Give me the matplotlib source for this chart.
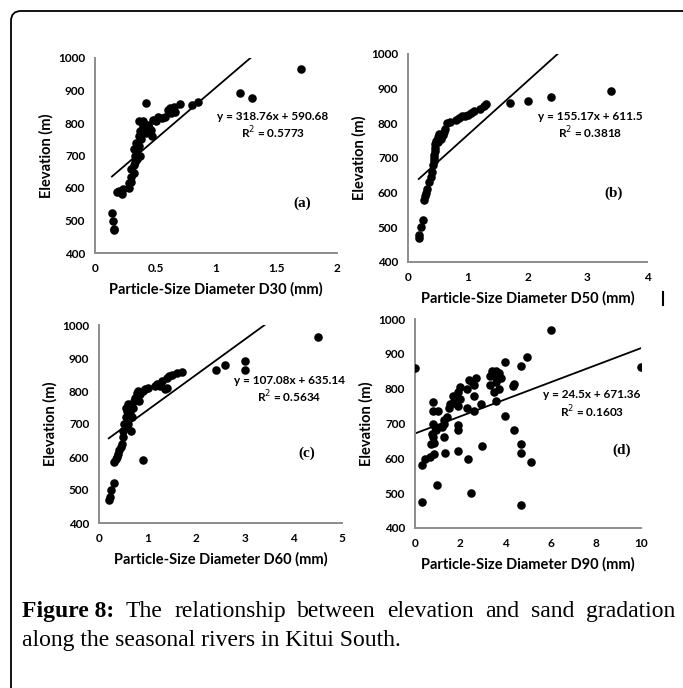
import numpy as np
import matplotlib
matplotlib.use('Agg')
from matplotlib import pyplot as plt
from matplotlib.patches import FancyBboxPatch

plt.rcParams['font.family'] = ['Lato', 'DejaVu Sans']

# (a) D30
d30_x = [0.14, 0.15, 0.16, 0.16, 0.18, 0.2, 0.22, 0.23, 0.28, 0.28, 0.3, 0.3, 0.32, 0.3,
         0.32, 0.33, 0.33, 0.35, 0.32, 0.34, 0.34, 0.36, 0.36, 0.37, 0.38, 0.37, 0.39, 0.36,
         0.4, 0.42, 0.4, 0.42, 0.44, 0.45, 0.47, 0.46, 0.48, 0.5, 0.52, 0.55, 0.58, 0.6,
         0.62, 0.63, 0.65, 0.66, 0.7, 0.8, 0.85, 1.2, 1.3, 1.7]
d30_y = [522, 500, 475, 470, 588, 590, 582, 598, 600, 615, 620, 635, 645, 660,
         670, 680, 700, 690, 720, 715, 740, 730, 760, 775, 750, 700, 780, 805,
         805, 862, 790, 770, 795, 785, 760, 780, 810, 805, 820, 815, 820, 840,
         845, 830, 850, 835, 860, 855, 865, 893, 878, 965]

# (b) D50
d50_x = [0.18, 0.18, 0.22, 0.25, 0.27, 0.28, 0.3, 0.32, 0.35, 0.38, 0.4, 0.42, 0.43, 0.44,
         0.44, 0.45, 0.45, 0.46, 0.47, 0.5, 0.5, 0.52, 0.55, 0.58, 0.6, 0.62, 0.65, 0.7,
         0.8, 0.85, 0.9, 0.95, 1.0, 1.05, 1.1, 1.2, 1.28, 1.3, 1.7, 2.0, 2.4, 3.4]
d50_y = [470, 478, 500, 520, 580, 590, 600, 610, 630, 645, 660, 680, 690, 700,
         710, 720, 730, 740, 750, 745, 760, 770, 755, 765, 775, 785, 800, 805,
         810, 815, 820, 822, 825, 830, 835, 840, 850, 855, 860, 865, 876, 892]

# (c) D60
d60_x = [0.2, 0.22, 0.25, 0.3, 0.3, 0.35, 0.38, 0.4, 0.42, 0.45, 0.48, 0.5, 0.5, 0.52,
         0.55, 0.55, 0.55, 0.58, 0.6, 0.6, 0.62, 0.63, 0.65, 0.67, 0.7, 0.72, 0.75, 0.78,
         0.8, 0.82, 0.85, 0.9, 0.9, 0.95, 1.0, 1.15, 1.2, 1.25, 1.3, 1.35, 1.4, 1.4,
         1.45, 1.5, 1.6, 1.7, 2.4, 2.6, 3.0, 3.0, 4.5]
d60_y = [470, 478, 500, 522, 585, 595, 600, 610, 620, 630, 640, 660, 680, 700,
         690, 720, 750, 740, 760, 700, 745, 730, 680, 720, 750, 770, 780, 795,
         800, 770, 790, 590, 800, 805, 810, 815, 820, 815, 830, 805, 810, 840,
         845, 850, 855, 858, 865, 878, 892, 865, 965]

# (d) D90
d90_x = [0.0, 6.0, 10.0, 4.97, 4.7, 4.0, 3.4, 3.3, 3.5, 3.6, 3.7, 3.8, 3.6, 3.7,
         3.5, 3.3, 3.6, 4.0, 4.35, 4.4, 4.4, 4.7, 4.7, 5.15, 4.7, 2.48, 2.95, 2.36,
         1.92, 1.33, 0.86, 0.32, 0.96, 0.3, 0.45, 0.65, 0.7, 0.8, 0.75, 0.8, 0.9,
         0.95, 0.85, 0.8, 0.8, 1.0, 1.2, 1.3, 1.3, 1.4, 1.3, 1.5, 1.55, 1.7, 1.8,
         1.9, 2.0, 1.9, 1.7, 2.0, 1.92, 1.92, 2.3, 2.3, 2.5, 2.6, 2.7, 2.6, 2.6,
         2.9, 2.4]
d90_y = [860, 967, 862, 891, 865, 877, 850, 835, 840, 850, 845, 830, 820, 800,
         790, 810, 765, 722, 808, 812, 682, 641, 615, 589, 467, 500, 635, 597,
         620, 616, 612, 476, 523, 582, 598, 605, 640, 660, 670, 700, 690,
         680, 645, 763, 735, 737, 690, 660, 700, 720, 710, 745, 755, 760, 775,
         790, 805, 750, 780, 770, 697, 680, 745, 800, 820, 810, 830, 780, 735,
         755, 825]

panels = [
    dict(x=d30_x, y=d30_y, slope=318.76, icpt=590.68, xmax=2, xticks=[0, 0.5, 1, 1.5, 2],
         xticklabels=['0', '0.5', '1', '1.5', '2'], xlabel='Particle-Size Diameter D30 (mm)',
         eq='y = 318.76x + 590.68', r2='R$^2$ = 0.5773', tag='(a)',
         rect=[95, 58, 337, 253], eqpos=(273, 116), tagpos=(302, 203)),
    dict(x=d50_x, y=d50_y, slope=155.17, icpt=611.5, xmax=4, xticks=[0, 1, 2, 3, 4],
         xticklabels=['0', '1', '2', '3', '4'], xlabel='Particle-Size Diameter D50 (mm)',
         eq='y = 155.17x + 611.5', r2='R$^2$ = 0.3818', tag='(b)',
         rect=[408, 54, 647, 262], eqpos=(590, 116), tagpos=(614, 193)),
    dict(x=d60_x, y=d60_y, slope=107.08, icpt=635.14, xmax=5, xticks=[0, 1, 2, 3, 4, 5],
         xticklabels=['0', '1', '2', '3', '4', '5'], xlabel='Particle-Size Diameter D60 (mm)',
         eq='y = 107.08x + 635.14', r2='R$^2$ = 0.5634', tag='(c)',
         rect=[99, 325, 342, 523], eqpos=(289, 380), tagpos=(307, 453)),
    dict(x=d90_x, y=d90_y, slope=24.5, icpt=671.36, xmax=10, xticks=[0, 2, 4, 6, 8, 10],
         xticklabels=['0', '2', '4', '6', '8', '10'], xlabel='Particle-Size Diameter D90 (mm)',
         eq='y = 24.5x + 671.36', r2='R$^2$ = 0.1603', tag='(d)',
         rect=[415, 319, 641, 528], eqpos=(592, 395), tagpos=(622, 450)),
]

W, H = 683, 688
fig = plt.figure(figsize=(W / 100, H / 100), dpi=100)

for p in panels:
    l, t, r, b = p['rect']
    ax = fig.add_axes([l / W, 1 - b / H, (r - l) / W, (b - t) / H])
    ax.scatter(p['x'], p['y'], s=38, color='black', zorder=3, linewidths=0)
    xs = np.array([min(p['x']), max(p['x'])])
    ax.plot(xs, p['slope'] * xs + p['icpt'], color='black', lw=1.3, zorder=2)
    ax.set_xlim(0, p['xmax'])
    ax.set_ylim(400, 1000)
    ax.set_xticks(p['xticks'])
    ax.set_xticklabels(p['xticklabels'])
    ax.set_yticks(range(400, 1001, 100))
    for s in ['top', 'right']:
        ax.spines[s].set_visible(False)
    for s in ['left', 'bottom']:
        ax.spines[s].set_color('#8c8c8c')
        ax.spines[s].set_linewidth(1.4)
    ax.tick_params(length=0, pad=7, labelsize=8.5)
    for lab in ax.get_xticklabels() + ax.get_yticklabels():
        lab.set_fontweight('bold')
    ax.set_xlabel(p['xlabel'], fontsize=10.5, fontweight='bold', labelpad=6)
    ax.set_ylabel('Elevation (m)', fontsize=10.5, fontweight='bold', labelpad=3)
    ex, ey = p['eqpos']
    fig.text(ex / W, 1 - ey / H, p['eq'], ha='center', va='center', fontsize=8.5, fontweight='bold')
    fig.text(ex / W, 1 - (ey + 17) / H, p['r2'], ha='center', va='center', fontsize=8.5, fontweight='bold')
    tx, ty = p['tagpos']
    fig.text(tx / W, 1 - ty / H, p['tag'], ha='center', va='center', fontsize=11,
             fontweight='bold', family=['Liberation Serif', 'DejaVu Serif'])

# border frame
frame = FancyBboxPatch((11, -40), 740, 688 - 11 + 40, boxstyle='round,pad=0,rounding_size=10',
                       transform=None, fill=False, edgecolor='black', lw=1.3)
fig.patches.append(frame)
fig.add_artist(plt.Line2D([663 / W, 663 / W], [1 - 292 / H, 1 - 305 / H], color='black', lw=1.5))

# caption, first line justified
serif = ['Liberation Serif', 'DejaVu Serif']
csize = 17
words = ['Figure 8:', 'The', 'relationship', 'between', 'elevation', 'and', 'sand', 'gradation']
renderer = fig.canvas.get_renderer()
arts = []
for i, w in enumerate(words):
    arts.append(fig.text(0, 1 - 617 / H, w, fontsize=csize, family=serif,
                         fontweight='bold' if i == 0 else 'normal', va='baseline'))
widths = [a.get_window_extent(renderer).width for a in arts]
x0, x1 = 22, 675
gap = (x1 - x0 - sum(widths)) / (len(words) - 1)
pos = x0
for a, wd in zip(arts, widths):
    a.set_x(pos / W)
    pos += wd + gap
fig.text(22 / W, 1 - 646 / H, 'along the seasonal rivers in Kitui South.', fontsize=csize,
         family=serif, va='baseline')

fig.savefig('out.png', dpi=100)
